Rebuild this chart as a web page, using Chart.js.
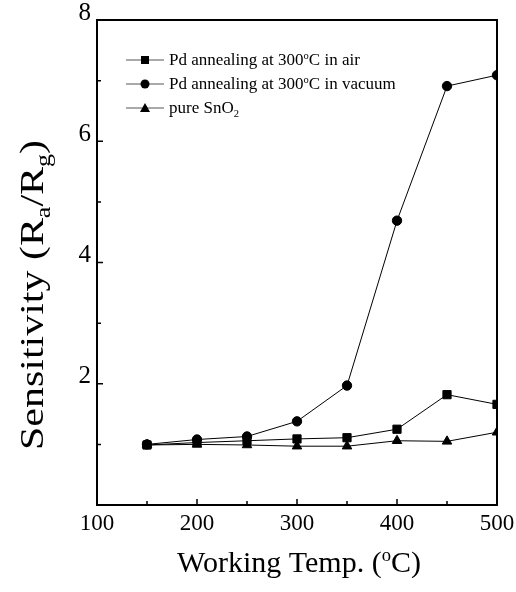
<!DOCTYPE html>
<html>
<head>
<meta charset="utf-8">
<script src="https://cdn.jsdelivr.net/npm/chart.js@4/dist/chart.umd.min.js"></script>
<style>
  html, body { margin: 0; padding: 0; background: #fff; }
  #wrap { width: 516px; height: 592px; }
</style>
</head>
<body>
<div id="wrap"><canvas id="sensChart" width="516" height="592"></canvas></div>
<script>
// values
const temps = [150, 200, 250, 300, 350, 400, 450, 500];
const airValues = [0.99, 1.03, 1.06, 1.09, 1.11, 1.25, 1.82, 1.66];
const vacuumValues = [1.0, 1.08, 1.13, 1.38, 1.97, 4.69, 6.91, 7.09];
const pureValues = [0.99, 1.0, 0.99, 0.97, 0.97, 1.06, 1.05, 1.2];
const xTicks = [100, 200, 300, 400, 500];
const xMinorTicks = [150, 250, 350, 450];
const yTicks = [2, 4, 6, 8];

const serif = '"Liberation Serif", "DejaVu Serif", serif';

function pts(vals) {
    return temps.map((t, i) => ({ x: t, y: vals[i] }));
}

// text with super/subscripts, parts = [[text, 'sup'|'sub'|null], ...]
function richWidth(ctx, parts, size) {
    let w = 0;
    parts.forEach(p => {
        ctx.font = (p[1] ? size * 0.62 : size) + 'px ' + serif;
        w += ctx.measureText(p[0]).width;
    });
    return w;
}
function drawRich(ctx, parts, x, y, size) {
    parts.forEach(p => {
        let dy = 0;
        if (p[1] === 'sup') dy = -size * 0.38;
        if (p[1] === 'sub') dy = size * 0.22;
        ctx.font = (p[1] ? size * 0.62 : size) + 'px ' + serif;
        ctx.fillText(p[0], x, y + dy);
        x += ctx.measureText(p[0]).width;
    });
}

function drawMarker(ctx, style, x, y) {
    ctx.beginPath();
    if (style === 'rect') {
        ctx.rect(x - 4, y - 4, 8, 8);
    } else if (style === 'triangle') {
        ctx.moveTo(x, y - 5);
        ctx.lineTo(x + 5, y + 4);
        ctx.lineTo(x - 5, y + 4);
        ctx.closePath();
    } else {
        ctx.arc(x, y, 4.5, 0, Math.PI * 2);
    }
    ctx.fill();
}

const legendLabels = [
    [['Pd annealing at 300', null], ['o', 'sup'], ['C in air', null]],
    [['Pd annealing at 300', null], ['o', 'sup'], ['C in vacuum', null]],
    [['pure SnO', null], ['2', 'sub']]
];

const decorations = {
    id: 'decorations',
    afterDraw(chart) {
        const ctx = chart.ctx;
        const a = chart.chartArea;
        const xs = chart.scales.x, ys = chart.scales.y;
        ctx.save();
        ctx.strokeStyle = '#000';
        ctx.fillStyle = '#000';

        // frame
        ctx.lineWidth = 2;
        ctx.strokeRect(a.left, a.top, a.right - a.left, a.bottom - a.top);

        // inward tick marks
        ctx.lineWidth = 1.5;
        ctx.beginPath();
        xTicks.concat(xMinorTicks).forEach(v => {
            const px = xs.getPixelForValue(v);
            const len = xTicks.includes(v) ? 6 : 4;
            ctx.moveTo(px, a.bottom);
            ctx.lineTo(px, a.bottom - len);
        });
        [1, 2, 3, 4, 5, 6, 7].forEach(v => {
            const py = ys.getPixelForValue(v);
            const len = v % 2 === 0 ? 6 : 4;
            ctx.moveTo(a.left, py);
            ctx.lineTo(a.left + len, py);
        });
        ctx.stroke();

        // legend inside the plot
        ctx.textAlign = 'left';
        ctx.textBaseline = 'alphabetic';
        chart.data.datasets.forEach((ds, i) => {
            const base = 65 + i * 24;
            const ly = base - 5;
            ctx.strokeStyle = '#555';
            ctx.lineWidth = 1;
            ctx.beginPath();
            ctx.moveTo(126, ly);
            ctx.lineTo(164, ly);
            ctx.stroke();
            drawMarker(ctx, ds.pointStyle, 145, ly);
            drawRich(ctx, legendLabels[i], 169, base, 17);
        });

        // x axis title
        const xt = [['Working Temp. (', null], ['o', 'sup'], ['C)', null]];
        const xw = richWidth(ctx, xt, 30);
        drawRich(ctx, xt, 299 - xw / 2, 572, 30);

        // y axis title (the scan is stretched along this axis)
        const yt = [['Sensitivity (R', null], ['a', 'sub'], ['/R', null], ['g', 'sub'], [')', null]];
        const yw = richWidth(ctx, yt, 34);
        ctx.translate(43, 295);
        ctx.rotate(-Math.PI / 2);
        ctx.scale(310 / yw, 1);
        drawRich(ctx, yt, -yw / 2, 0, 34);
        ctx.restore();
    }
};

const ctx = document.getElementById('sensChart').getContext('2d');

const sensChart = new Chart(ctx, {
    type: 'line',
    data: {
        datasets: [{
            label: 'Pd annealing at 300oC in air',
            data: pts(airValues),
            pointStyle: 'rect',
            pointRadius: 5.8,
            borderColor: '#000',
            backgroundColor: '#000',
            borderWidth: 1
        }, {
            label: 'Pd annealing at 300oC in vacuum',
            data: pts(vacuumValues),
            pointStyle: 'circle',
            pointRadius: 4.7,
            borderColor: '#000',
            backgroundColor: '#000',
            borderWidth: 1
        }, {
            label: 'pure SnO2',
            data: pts(pureValues),
            pointStyle: 'triangle',
            pointRadius: 5.5,
            borderColor: '#000',
            backgroundColor: '#000',
            borderWidth: 1
        }]
    },
    options: {
        responsive: false,
        animation: false,
        layout: { padding: { top: 20, right: 19, left: 0, bottom: 0 } },
        plugins: {
            legend: { display: false },
            tooltip: { enabled: false }
        },
        scales: {
            x: {
                type: 'linear',
                min: 100,
                max: 500,
                afterBuildTicks: s => { s.ticks = xTicks.map(v => ({ value: v })); },
                afterFit: s => { s.height = 87; s.paddingLeft = 0; s.paddingRight = 0; },
                grid: { display: false, drawTicks: false },
                border: { display: false },
                ticks: {
                    color: '#000',
                    padding: 5,
                    maxRotation: 0,
                    font: { family: serif, size: 23 }
                }
            },
            y: {
                min: 0,
                max: 8,
                afterBuildTicks: s => { s.ticks = yTicks.map(v => ({ value: v })); },
                afterFit: s => { s.width = 97; s.paddingTop = 0; s.paddingBottom = 0; },
                grid: { display: false, drawTicks: false },
                border: { display: false },
                ticks: {
                    color: '#000',
                    padding: 6,
                    labelOffset: -7,
                    font: { family: serif, size: 25 }
                }
            }
        }
    },
    plugins: [decorations]
});
</script>
</body>
</html>
